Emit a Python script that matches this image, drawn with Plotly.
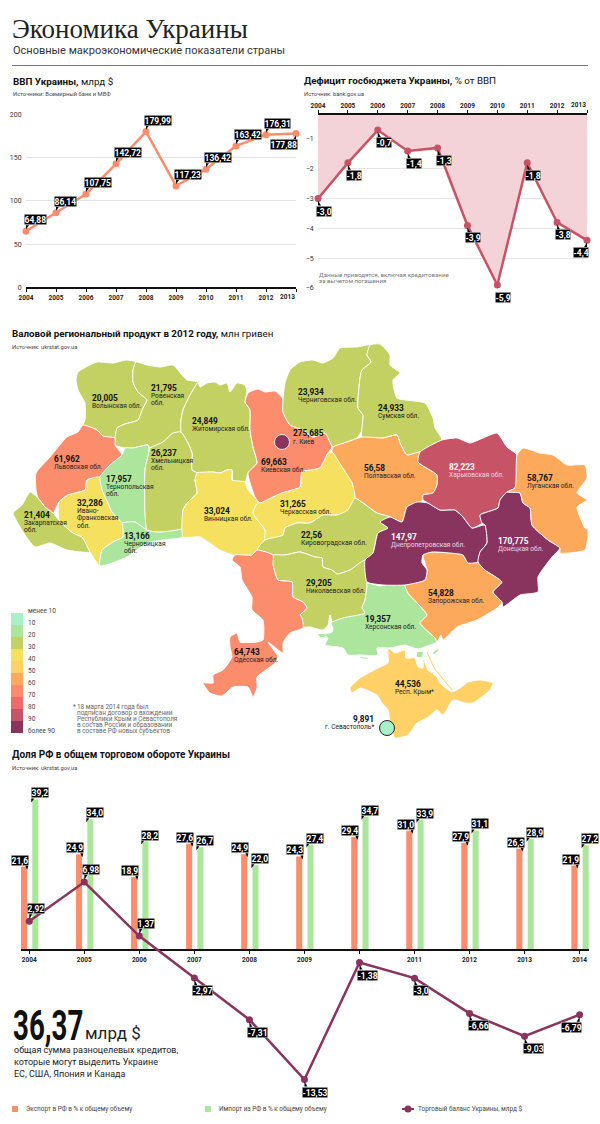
"""Экономика Украины: infographic rebuilt with Plotly on a 600x1124 page."""

import plotly.graph_objects as go

WIDTH, HEIGHT = 600, 1124
SANS = "Roboto"
SERIF = "Liberation Serif"

# ====================== DATA ======================
YEARS_GDP = [2004, 2005, 2006, 2007, 2008, 2009, 2010, 2011, 2012, 2013]
GDP = [64.88, 86.14, 107.75, 142.72, 179.99, 117.23, 136.42, 163.42, 176.31, 177.88]
DEFICIT = [-3.0, -1.8, -0.7, -1.4, -1.3, -3.9, -5.9, -1.8, -3.8, -4.4]

YEARS_TRADE = [2004, 2005, 2006, 2007, 2008, 2009, 2010, 2011, 2012, 2013, 2014]
EXPORT_SHARE = [21.6, 24.9, 18.9, 27.6, 24.9, 24.3, 29.4, 31.0, 27.9, 26.3, 21.9]
IMPORT_SHARE = [39.2, 34.0, 28.2, 26.7, 22.0, 27.4, 34.7, 33.9, 31.1, 28.9, 27.2]
TRADE_BALANCE = [2.92, 6.98, 1.37, -2.97, -7.31, -13.53, -1.38, -3.0, -6.66, -9.03, -6.79]
TRADE_LABELS = ["2,92", "6,98", "1,37", "-2,97", "-7,31", "-13,53", "-1,38", "-3,0", "-6,66", "-9,03", "-6,79"]

LEGEND_COLORS = ["#A8F0C8", "#ABE69C", "#C3D163", "#F5E05F", "#FFD166", "#FDA95C",
                 "#FB8C6C", "#EE6B6B", "#C75366", "#89335F"]
LEGEND_LABELS = ["менее 10", "10", "20", "30", "40", "50", "60", "70", "80", "90", "более 90"]

OLIVE, SALMON, GREEN, YELLOW = "#C3D163", "#FB8C6C", "#ABE69C", "#F5E05F"
SAND, ORANGE, ROSE, PLUM = "#FFD166", "#FDA95C", "#C75366", "#89335F"

# Region outlines (page pixels)
VOLYN = [(76, 380), (78, 372), (97, 362), (113, 363), (126, 360), (136, 362), (133, 370), (133, 382), (138, 392),
         (147, 400), (143, 408), (138, 420), (125, 424), (117, 428), (115, 438), (103, 436), (97, 430), (83, 425),
         (85, 420), (85, 403), (78, 390)]
RIVNE = [(136, 362), (147, 365), (160, 367), (173, 365), (182, 375), (187, 380), (198, 382), (193, 390), (190, 395),
         (183, 410), (181, 420), (181, 432), (173, 433), (163, 442), (150, 448), (148, 445), (133, 448), (125, 448),
         (115, 445), (115, 438), (117, 428), (125, 424), (138, 420), (143, 408), (147, 400), (138, 392), (133, 382),
         (133, 370)]
ZHYTOMYR = [(198, 382), (200, 387), (207, 383), (215, 382), (220, 385), (227, 383), (230, 392), (237, 383), (245, 385),
            (247, 392), (245, 402), (250, 410), (250, 430), (253, 447), (257, 463), (248, 473), (245, 482), (233, 481),
            (232, 470), (227, 470), (220, 473), (213, 472), (198, 473), (192, 470), (192, 453), (188, 443), (181, 432),
            (181, 420), (183, 410), (190, 395), (193, 390)]
LVIV = [(83, 425), (97, 430), (103, 436), (115, 438), (115, 445), (122, 455), (110, 465), (100, 477), (87, 480),
        (85, 490), (68, 495), (59, 502), (53, 513), (45, 507), (38, 498), (36, 490), (36, 473), (50, 457), (67, 437),
        (78, 432)]
ZAKARPATTIA = [(30, 492), (38, 498), (45, 507), (53, 513), (59, 520), (73, 533), (82, 537), (90, 552), (67, 550),
               (50, 543), (35, 547), (23, 532), (15, 518), (13, 513), (22, 505)]
IVANO_FRANKIVSK = [(87, 480), (100, 477), (102, 490), (108, 503), (112, 512), (123, 523), (123, 537), (113, 542),
                   (102, 550), (99, 565), (90, 552), (82, 537), (73, 533), (59, 520), (59, 502), (68, 495), (85, 490)]
TERNOPIL = [(100, 477), (110, 465), (122, 455), (125, 448), (133, 448), (148, 445), (149, 452), (145, 470), (145, 513),
            (147, 530), (135, 522), (123, 523), (112, 512), (108, 503), (102, 490)]
CHERNIVTSI = [(123, 523), (135, 522), (147, 530), (160, 532), (183, 528), (183, 537), (163, 540), (147, 543),
              (127, 557), (100, 566), (102, 550), (113, 542), (123, 537)]
KHMELNYTSKYI = [(150, 448), (163, 442), (173, 433), (181, 432), (188, 443), (192, 453), (192, 470), (197, 473),
                (195, 480), (197, 493), (188, 502), (183, 510), (183, 528), (160, 532), (147, 530), (145, 513),
                (145, 470), (149, 452)]
VINNYTSIA = [(197, 473), (213, 472), (220, 473), (227, 470), (232, 470), (232, 480), (245, 482), (248, 490), (258, 502),
             (253, 513), (265, 530), (265, 540), (257, 550), (252, 555), (233, 555), (220, 550), (200, 537), (183, 537),
             (183, 510), (188, 502), (197, 493), (195, 480)]
KYIV_OBL = [(245, 402), (248, 393), (258, 389), (265, 392), (275, 391), (283, 399), (283, 412), (290, 425), (303, 430),
            (313, 437), (325, 433), (332, 447), (328, 453), (320, 468), (302, 472), (300, 487), (282, 493), (273, 497),
            (260, 503), (255, 497), (248, 473), (257, 463), (253, 447), (250, 430), (250, 410)]
CHERNIHIV = [(283, 399), (285, 383), (290, 370), (300, 362), (313, 360), (323, 363), (333, 358), (340, 348), (357, 347),
             (370, 345), (367, 355), (371, 362), (362, 370), (360, 378), (358, 408), (363, 415), (362, 430), (357, 438),
             (347, 442), (333, 447), (325, 433), (313, 437), (303, 430), (290, 425), (283, 412)]
SUMY = [(370, 345), (380, 344), (390, 355), (390, 365), (400, 373), (393, 380), (397, 398), (425, 403), (433, 418),
        (435, 428), (442, 440), (420, 452), (407, 455), (400, 443), (397, 435), (383, 438), (362, 437), (363, 415),
        (358, 408), (360, 378), (362, 370), (371, 362), (367, 355)]
POLTAVA = [(333, 447), (347, 442), (362, 437), (383, 438), (397, 435), (400, 443), (407, 455), (420, 452), (418, 462),
           (437, 475), (437, 485), (433, 493), (423, 495), (423, 500), (407, 507), (402, 522), (390, 517), (377, 513),
           (363, 503), (355, 498), (352, 483), (342, 467), (332, 452)]
CHERKASY = [(332, 452), (342, 467), (352, 483), (355, 498), (348, 510), (337, 515), (323, 515), (310, 523), (297, 523),
            (285, 528), (283, 535), (265, 540), (265, 530), (253, 513), (258, 502), (260, 503), (273, 497), (282, 493),
            (300, 487), (302, 472), (320, 468), (328, 453)]
KIROVOHRAD = [(257, 550), (265, 540), (283, 535), (285, 528), (297, 523), (310, 523), (323, 515), (337, 515), (348, 510),
              (355, 498), (363, 503), (377, 513), (390, 517), (380, 522), (388, 528), (378, 533), (373, 553), (365, 560),
              (350, 570), (337, 574), (332, 570), (323, 567), (322, 558), (315, 557), (300, 552), (285, 555), (273, 555)]
MYKOLAIV = [(273, 555), (285, 555), (300, 552), (315, 557), (322, 558), (323, 567), (332, 570), (337, 574), (350, 570),
            (365, 560), (367, 578), (367, 587), (365, 600), (362, 608), (365, 613), (353, 617), (333, 623), (330, 615),
            (328, 625), (323, 630), (310, 627), (303, 627), (302, 618), (300, 615), (307, 608), (303, 602), (293, 597),
            (292, 582), (278, 580), (273, 565)]
ODESA = [(232, 560), (235, 555), (252, 555), (257, 550), (273, 555), (273, 565), (278, 580), (292, 582), (293, 597),
         (303, 602), (307, 608), (300, 615), (302, 618), (303, 628), (290, 633), (283, 643), (283, 653), (268, 642),
         (278, 657), (275, 663), (263, 672), (257, 677), (257, 688), (253, 697), (248, 687), (233, 687), (222, 696),
         (210, 693), (203, 683), (213, 683), (213, 675), (223, 670), (232, 657), (230, 647), (230, 637), (237, 633),
         (240, 642), (257, 642), (263, 640), (263, 620), (252, 610), (252, 597), (242, 580), (240, 567)]
KHERSON = [(367, 583), (380, 586), (392, 583), (405, 585), (408, 593), (427, 615), (420, 623), (435, 638), (437, 642),
           (430, 645), (418, 649), (405, 645), (390, 648), (377, 648), (378, 655), (360, 655), (348, 655), (343, 648),
           (325, 645), (328, 638), (322, 635), (332, 632), (333, 628), (331, 623), (343, 618), (365, 613), (362, 608),
           (365, 600), (367, 587)]
ZAPORIZHIA = [(423, 555), (432, 552), (450, 553), (463, 555), (468, 563), (478, 562), (485, 570), (502, 582), (493, 592),
              (502, 602), (497, 608), (477, 620), (457, 627), (443, 640), (441, 635), (437, 642), (435, 638), (420, 623),
              (427, 615), (408, 593), (405, 585), (425, 580), (427, 570)]
DNIPRO = [(407, 507), (402, 522), (390, 517), (380, 522), (388, 528), (378, 533), (373, 553), (365, 560), (367, 582),
          (383, 585), (405, 585), (425, 580), (427, 570), (422, 563), (423, 555), (432, 552), (450, 553), (463, 555),
          (468, 563), (478, 562), (480, 552), (487, 543), (485, 525), (472, 528), (463, 517), (455, 510), (440, 510),
          (428, 503), (417, 502)]
KHARKIV = [(442, 440), (457, 438), (470, 443), (483, 438), (497, 433), (507, 447), (517, 455), (515, 488), (507, 492),
           (500, 500), (498, 508), (480, 515), (482, 523), (472, 528), (463, 517), (455, 510), (440, 510), (428, 503),
           (423, 500), (423, 495), (433, 493), (437, 485), (437, 475), (418, 462), (420, 452)]
DONETSK = [(507, 492), (520, 493), (523, 503), (530, 508), (532, 525), (548, 540), (560, 548), (552, 557), (538, 577),
           (538, 592), (520, 595), (503, 607), (502, 602), (493, 592), (502, 582), (485, 570), (478, 562), (480, 552),
           (487, 543), (485, 525), (482, 523), (480, 515), (498, 508), (500, 500)]
LUHANSK = [(517, 455), (523, 448), (540, 453), (553, 455), (567, 465), (585, 465), (587, 478), (577, 493), (587, 500),
           (577, 507), (585, 528), (588, 530), (585, 550), (560, 553), (560, 548), (548, 540), (532, 525), (530, 508),
           (523, 503), (520, 493), (507, 492), (515, 488)]
CRIMEA = [(350, 688), (360, 678), (380, 667), (388, 663), (388, 648), (395, 653), (405, 650), (406, 658), (415, 658),
          (418, 667), (423, 668), (423, 657), (428, 670), (437, 677), (440, 683), (452, 692), (460, 688), (468, 682),
          (480, 680), (493, 683), (490, 690), (473, 703), (465, 703), (453, 700), (443, 715), (437, 710), (427, 718),
          (417, 723), (408, 735), (395, 738), (390, 723), (388, 710), (382, 703), (377, 695), (360, 688), (352, 693)]
ARABAT_SPIT = [(427, 652), (434, 668), (452, 690)]
KHERSON_ISLETS = [
    [(417, 652), (423, 652), (422, 657), (417, 657)],
    [(433, 652), (439, 649), (438, 651), (434, 654)],
    [(360, 657), (368, 658), (367, 659), (361, 658)],
    [(318, 634), (324, 634), (325, 637), (320, 637)],
]

REGION_OUTLINES = [VOLYN, RIVNE, ZHYTOMYR, LVIV, ZAKARPATTIA, IVANO_FRANKIVSK, TERNOPIL, CHERNIVTSI, KHMELNYTSKYI,
                   VINNYTSIA, KYIV_OBL, CHERNIHIV, SUMY, POLTAVA, CHERKASY, KIROVOHRAD, MYKOLAIV, ODESA, KHERSON,
                   ZAPORIZHIA, DNIPRO, KHARKIV, DONETSK, LUHANSK, CRIMEA]
REGION_COLORS = [OLIVE, OLIVE, OLIVE, SALMON, OLIVE, YELLOW, GREEN, GREEN, OLIVE,
                 YELLOW, SALMON, OLIVE, OLIVE, ORANGE, YELLOW, OLIVE, OLIVE, SALMON, GREEN,
                 ORANGE, PLUM, ROSE, PLUM, ORANGE, SAND]
REGION_VALUES = ["20,005", "21,795", "24,849", "61,962", "21,404", "32,286", "17,957", "13,166", "26,237",
                 "33,024", "69,663", "23,934", "24,933", "56,58", "31,265", "22,56", "29,205", "64,743", "19,357",
                 "54,828", "147,97", "82,223", "170,775", "58,767", "44,536"]
REGION_NAMES = [["Волынская обл."], ["Ровенская", "обл."], ["Житомирская обл."], ["Львовская обл."],
                ["Закарпатская", "обл."], ["Ивано-", "Франковская", "обл."], ["Тернопольская", "обл."],
                ["Черновицкая", "обл."], ["Хмельницкая", "обл."], ["Винницкая обл."], ["Киевская обл."],
                ["Черниговская обл."], ["Сумская обл."], ["Полтавская обл."], ["Черкасская обл."],
                ["Кировоградская обл."], ["Николаевская обл."], ["Одесская обл."], ["Херсонская обл."],
                ["Запорожская обл."], ["Днепропетровская обл."], ["Харьковская обл."], ["Донецкая обл."],
                ["Луганская обл."], ["Респ. Крым*"]]
LABEL_X = [91, 150, 191, 53, 23, 76, 105, 123, 150, 203, 260, 297, 377, 363, 279, 300, 305, 233, 364,
           427, 390, 448, 497, 526, 394]
LABEL_Y = [398, 388, 421, 459, 515, 503, 479, 536, 453, 511, 462, 392, 408, 468, 504, 535, 583, 652, 619,
           593, 537, 467, 541, 478, 684]
WHITE_LABELS = {"147,97", "82,223", "170,775"}

FOOTNOTE = ["18 марта 2014 года был", "подписан договор о вхождении", "Республики Крым и Севастополя",
            "в состав России и образовании", "в составе РФ новых субъектов"]
LOAN_TEXT = ["общая сумма разноцелевых кредитов,", "которые могут выделить Украине", "ЕС, США, Япония и Канада"]

# no condensed face is installed, so the big figure is squeezed after drawing
SQUEEZE_JS = """
document.body.style.margin = '0';
document.querySelectorAll('text.annotation-text').forEach(function (t) {
  if (t.textContent === '36,37') {
    var x0 = t.getBBox().x;
    t.setAttribute('transform', 'translate(' + x0 + ',0) scale(0.66,1) translate(' + (-x0) + ',0)');
  }
});
"""


def paper_y(py):
    return 1 - py / HEIGHT


fig = go.Figure()
annotations, shapes = [], []


def text(x, y, label, size=7, color="#222", anchor="left", family=SANS):
    """Free text placed in page pixels."""
    annotations.append(dict(
        x=x, y=y, xref="x3", yref="y3", text=label, showarrow=False, xanchor=anchor, yanchor="middle",
        font=dict(size=size, color=color, family=family), borderpad=0,
    ))


def callout(xv, yv, label, xa, ya, below=False, flip=False, gap=7):
    """Black value tag with a small tail pointing at the point."""
    annotations.append(dict(
        x=xv, y=yv, xref=xa, yref=ya, text=f"<b>{label}</b>", showarrow=False,
        xanchor="right" if flip else "left", yanchor="top" if below else "bottom",
        xshift=2 if flip else -2, yshift=-gap if below else gap,
        font=dict(size=8.5, color="white", family=SANS), bgcolor="black",
        bordercolor="#d8d8d8", borderwidth=0.5, borderpad=0,
    ))
    s = -1 if below else 1
    t = -1 if flip else 1
    shapes.append(dict(
        type="path", xref=xa, yref=ya, xsizemode="pixel", ysizemode="pixel", xanchor=xv, yanchor=yv,
        path=f"M 0 {s * 2} L 0 {s * gap} L {t * 3} {s * gap} Z", fillcolor="black", line=dict(width=0),
    ))


def bar_tag(xv, yv, label, left):
    """Value tag sitting on top of a bar."""
    annotations.append(dict(
        x=xv, y=yv, xref="x4", yref="y4", text=f"<b>{label}</b>", showarrow=False,
        xanchor="right" if left else "left", yanchor="bottom", xshift=0 if left else 1.5, yshift=1,
        font=dict(size=8.5, color="white", family=SANS), bgcolor="black",
        bordercolor="#d8d8d8", borderwidth=0.5, borderpad=0,
    ))
    path = "M -4 1 L -1 1 L -2 -3 Z" if left else "M 2 1 L 5 1 L 2 -3 Z"
    shapes.append(dict(
        type="path", xref="x4", yref="y4", xsizemode="pixel", ysizemode="pixel", xanchor=xv, yanchor=yv,
        path=path, fillcolor="black", line=dict(width=0),
    ))


def comma(value, digits):
    return f"{value:.{digits}f}".replace(".", ",")


# ====================== HEADER ======================
text(11, 29, "Экономика Украины", size=27, color="#222", family=SERIF)
text(12, 50.5, "Основные макроэкономические показатели страны", size=11, color="#333")
shapes.append(dict(type="line", xref="x3", yref="y3", x0=12, x1=588, y0=65.5, y1=65.5,
                   line=dict(color="#777", width=1.2)))

# ====================== GDP ======================
text(12, 81.5, "<b>ВВП Украины,</b> млрд $", size=9.8, color="#111")
text(12, 94.3, "Источники: Всемирный банк и МВФ", size=5.8, color="#444")
fig.add_trace(go.Scatter(
    x=YEARS_GDP, y=GDP, xaxis="x", yaxis="y", mode="lines+markers", cliponaxis=False,
    line=dict(color=SALMON, width=2.5), marker=dict(size=7, color=SALMON),
    hovertemplate="%{x}: %{y}<extra></extra>",
))
for i, (year, value) in enumerate(zip(YEARS_GDP, GDP)):
    last = i == len(GDP) - 1
    callout(year, value, comma(value, 2), "x", "y", below=last, flip=last, gap=6)

# ====================== DEFICIT ======================
text(303, 80.7, "<b>Дефицит госбюджета Украины,</b> % от ВВП", size=9.8, color="#111")
text(303, 94, "Источник: bank.gov.ua", size=5.8, color="#444")
deficit_top = [-0.195] * len(YEARS_GDP)
fig.add_trace(go.Scatter(
    x=YEARS_GDP, y=deficit_top, xaxis="x2", yaxis="y2", mode="lines", line=dict(width=0), hoverinfo="skip",
))
fig.add_trace(go.Scatter(
    x=YEARS_GDP, y=DEFICIT, xaxis="x2", yaxis="y2", mode="lines+markers", cliponaxis=False,
    fill="tonexty", fillcolor="#F3D3D8", line=dict(color=ROSE, width=2.5), marker=dict(size=7, color=ROSE),
    hovertemplate="%{x}: %{y}<extra></extra>",
))
for i, (year, value) in enumerate(zip(YEARS_GDP, DEFICIT)):
    callout(year, value, comma(value, 1), "x2", "y2", below=True, flip=i == len(DEFICIT) - 1)
text(318, 275, "Данные приводятся, включая кредитование", size=6.2, color="#777")
text(318, 281, "за вычетом погашения", size=6.2, color="#777")

# ====================== MAP ======================
text(11, 333, "<b>Валовой региональный продукт в 2012 году,</b> млн гривен", size=9.8, color="#111")
text(11, 346.7, "Источник: ukrstat.gov.ua", size=5.8, color="#444")
for outline, color, name in zip(REGION_OUTLINES, REGION_COLORS, REGION_NAMES):
    xs, ys = zip(*outline)
    fig.add_trace(go.Scatter(
        x=list(xs) + [xs[0]], y=list(ys) + [ys[0]], xaxis="x3", yaxis="y3", mode="lines", fill="toself",
        fillcolor=color, line=dict(color="white", width=1, shape="spline", smoothing=0.5),
        hoverinfo="text", text=" ".join(name),
    ))
for islet in KHERSON_ISLETS:
    xs, ys = zip(*islet)
    fig.add_trace(go.Scatter(x=list(xs) + [xs[0]], y=list(ys) + [ys[0]], xaxis="x3", yaxis="y3", mode="lines",
                             fill="toself", fillcolor=GREEN, line=dict(width=0), hoverinfo="skip"))
spit_x, spit_y = zip(*ARABAT_SPIT)
fig.add_trace(go.Scatter(x=spit_x, y=spit_y, xaxis="x3", yaxis="y3", mode="lines",
                         line=dict(color=SAND, width=1), hoverinfo="skip"))
fig.add_trace(go.Scatter(x=[282], y=[442], xaxis="x3", yaxis="y3", mode="markers", hoverinfo="skip",
                         marker=dict(size=15, color=PLUM, line=dict(color="#F2E6EC", width=1))))
fig.add_trace(go.Scatter(x=[387], y=[728], xaxis="x3", yaxis="y3", mode="markers", hoverinfo="skip",
                         marker=dict(size=15, color=LEGEND_COLORS[0], line=dict(color="#222", width=1))))

for value, names, lx, ly in zip(REGION_VALUES, REGION_NAMES, LABEL_X, LABEL_Y):
    color = "white" if value in WHITE_LABELS else "#111"
    text(lx, ly, f"<b>{value}</b>", size=8.3, color=color)
    for j, name in enumerate(names):
        text(lx, ly + 8 + j * 7.3, name, size=6.6, color="#EBD9E2" if color == "white" else "#222")
text(292, 433, "<b>275,685</b>", size=8.3, color="#111")
text(292, 442, "г. Киев", size=6.6)
text(375, 719, "<b>9,891</b>", size=8.3, color="#111", anchor="right")
text(375, 727, "г. Севастополь*", size=6.6, anchor="right")

for i, color in enumerate(LEGEND_COLORS):
    shapes.append(dict(type="rect", xref="x3", yref="y3", x0=11, x1=23, y0=613 + 12 * i, y1=625 + 12 * i,
                       fillcolor=color, line=dict(width=0)))
for i, label in enumerate(LEGEND_LABELS):
    text(27, 611 + 12 * i, label, size=6.5, color="#444")

text(72, 707, "*", size=6.5, color="#666")
for i, line in enumerate(FOOTNOTE):
    text(76, 707 + i * 6.1, line, size=6.4, color="#666")

# ====================== TRADE ======================
text(11, 754, "<b>Доля РФ в общем торговом обороте Украины</b>", size=10, color="#111")
text(11, 767.7, "Источник: ukrstat.gov.ua", size=5.8, color="#444")
fig.add_trace(go.Bar(x=YEARS_TRADE, y=EXPORT_SHARE, xaxis="x4", yaxis="y4", width=0.11, offset=-0.15,
                     marker=dict(color=SALMON, line=dict(width=0)), hovertemplate="%{x}: %{y}<extra></extra>"))
fig.add_trace(go.Bar(x=YEARS_TRADE, y=IMPORT_SHARE, xaxis="x4", yaxis="y4", width=0.11, offset=0.055,
                     marker=dict(color=GREEN, line=dict(width=0)), hovertemplate="%{x}: %{y}<extra></extra>"))
fig.add_trace(go.Scatter(
    x=YEARS_TRADE, y=TRADE_BALANCE, xaxis="x4", yaxis="y5", mode="lines+markers", cliponaxis=False,
    line=dict(color=PLUM, width=2.5), marker=dict(size=7, color=PLUM),
    hovertemplate="%{x}: %{y}<extra></extra>",
))
for year, exp, imp in zip(YEARS_TRADE, EXPORT_SHARE, IMPORT_SHARE):
    bar_tag(year, exp, comma(exp, 1), left=True)
    bar_tag(year, imp, comma(imp, 1), left=False)
for i, (year, value, label) in enumerate(zip(YEARS_TRADE, TRADE_BALANCE, TRADE_LABELS)):
    callout(year, value, label, "x4", "y5", below=value < 0, flip=i == len(YEARS_TRADE) - 1)

# big number block
text(12, 1025, "<b>36,37</b>", size=42, color="#111")
text(84, 1033, "млрд $", size=17, color="#222")
for i, line in enumerate(LOAN_TEXT):
    text(13, 1049.5 + i * 12, line, size=9, color="#222")

# bottom legend
shapes.append(dict(type="rect", xref="x3", yref="y3", x0=12, x1=18, y0=1106, y1=1112,
                   fillcolor=SALMON, line=dict(width=0)))
text(25, 1109, "Экспорт в РФ в % к общему объему", size=6.4, color="#444")
shapes.append(dict(type="rect", xref="x3", yref="y3", x0=205, x1=211, y0=1106, y1=1112,
                   fillcolor=GREEN, line=dict(width=0)))
text(218, 1109, "Импорт из РФ в % к общему объему", size=6.4, color="#444")
shapes.append(dict(type="line", xref="x3", yref="y3", x0=402, x1=414, y0=1109, y1=1109,
                   line=dict(color=PLUM, width=2)))
fig.add_trace(go.Scatter(x=[408], y=[1109], xaxis="x3", yaxis="y3", mode="markers", hoverinfo="skip",
                         marker=dict(size=7, color=PLUM)))
text(417, 1109, "Торговый баланс Украины, млрд $", size=6.4, color="#444")

# 2013 tick labels are pulled inward in the original
text(296, 297.3, "<b>2013</b>", size=6.5, color="#222", anchor="right")
text(587, 105, "<b>2013</b>", size=6.5, color="#222", anchor="right")

# ====================== AXES ======================
year_font = dict(size=6.5, color="#222", family=SANS)
tick_font = dict(size=7, color="#333", family=SANS)
gdp_ticktext = [f"<b>{y}</b>" for y in YEARS_GDP[:-1]] + [""]
trade_ticktext = ["" if y == 2010 else f"<b>{y}</b>" for y in YEARS_TRADE]


def x_axis(domain, side, tickvals, ticktext, axis_range, anchor):
    return dict(
        domain=domain, range=axis_range, side=side, anchor=anchor, tickmode="array", tickvals=tickvals,
        ticktext=ticktext, ticks="outside", ticklen=3, tickwidth=1, tickcolor="#111", showline=True,
        linecolor="#111", linewidth=1.5, showgrid=False, zeroline=False, tickfont=year_font, automargin=False,
    )


def y_axis(domain, axis_range, tickvals, anchor):
    return dict(
        domain=domain, range=axis_range, anchor=anchor, tickmode="array", tickvals=tickvals,
        ticks="outside", ticklen=2, tickcolor="rgba(0,0,0,0)", showline=False, showgrid=True,
        gridcolor="#E3E3E3", gridwidth=1, zeroline=False, tickfont=tick_font, automargin=False,
    )


fig.update_layout(
    width=WIDTH, height=HEIGHT, autosize=False, margin=dict(l=0, r=0, t=0, b=0, pad=0),
    paper_bgcolor="white", plot_bgcolor="rgba(0,0,0,0)", showlegend=False, hovermode="closest", barmode="overlay",
    xaxis=x_axis([26 / WIDTH, 296 / WIDTH], "bottom", YEARS_GDP, gdp_ticktext, [2004, 2013], "y"),
    yaxis=y_axis([paper_y(287.3), paper_y(114.3)], [0, 200], [0, 50, 100, 150, 200], "x"),
    xaxis2=x_axis([318 / WIDTH, 587 / WIDTH], "top", YEARS_GDP, gdp_ticktext, [2004, 2013], "y2"),
    yaxis2=y_axis([paper_y(288), paper_y(115)], [-6, -0.195], [-1, -2, -3, -4, -5, -6], "x2"),
    xaxis3=dict(domain=[0, 1], range=[0, WIDTH], visible=False, anchor="y3", automargin=False),
    yaxis3=dict(domain=[0, 1], range=[HEIGHT, 0], visible=False, anchor="x3", automargin=False),
    xaxis4=x_axis([21 / WIDTH, 589 / WIDTH], "bottom", YEARS_TRADE, trade_ticktext, [2003.85, 2014.17], "y4"),
    yaxis4=dict(domain=[paper_y(949.3), paper_y(780)], range=[0, 44.3], anchor="x4", visible=False, automargin=False),
    yaxis5=dict(domain=[paper_y(1110), paper_y(780)], range=[-16.69, 17.58], anchor="x4", visible=False,
                automargin=False),
    annotations=annotations,
    shapes=shapes,
)

fig.write_html("out.html", config=dict(displayModeBar=False), post_script=SQUEEZE_JS)
